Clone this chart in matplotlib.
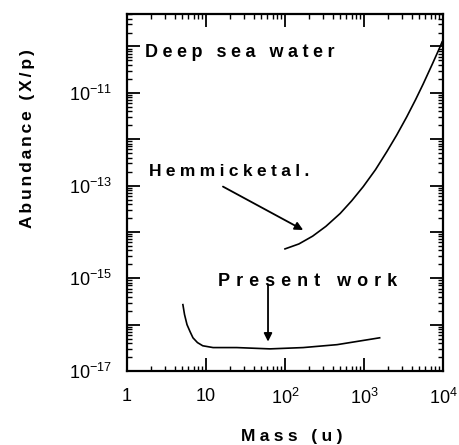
import numpy as np
import matplotlib
matplotlib.use('Agg')
import matplotlib.pyplot as plt
from matplotlib.ticker import LogLocator, FixedLocator, NullFormatter

plt.rcParams['font.family'] = ['Liberation Sans', 'DejaVu Sans']
plt.rcParams['mathtext.default'] = 'regular'

# Hemmick et al. limit curve
hem_mass = [100, 150, 224, 330, 500, 700, 980, 1400, 1950, 2600, 3470, 4500, 5620, 7400, 9120, 9770]
hem_abund = [4.3e-15, 5.5e-15, 8.1e-15, 1.32e-14, 2.5e-14, 4.7e-14, 9.5e-14, 2.2e-13,
             5.4e-13, 1.23e-12, 3.0e-12, 7.1e-12, 1.55e-11, 4.3e-11, 9.5e-11, 1.26e-10]

# present work limit curve
pw_mass = [5.1, 5.35, 5.75, 6.3, 6.84, 7.8, 9.1, 12.3, 24.5, 64.6, 170, 457, 1580]
pw_abund = [2.7e-16, 1.65e-16, 1.0e-16, 7.0e-17, 5.2e-17, 4.1e-17, 3.5e-17, 3.2e-17,
            3.2e-17, 3.0e-17, 3.2e-17, 3.7e-17, 5.2e-17]

x_ticks = [1, 10, 100, 1000, 10000]
x_labels = ['1', '10', '$10^2$', '$10^3$', '$10^4$']
y_decades = list(range(-17, -9))
y_labelled = {-17: '$10^{-17}$', -15: '$10^{-15}$', -13: '$10^{-13}$', -11: '$10^{-11}$'}


def spaced(s, gap, word_gap=None):
    # old typewriter style letter spacing
    if word_gap is None:
        word_gap = gap + ' ' + gap
    return word_gap.join(gap.join(w) for w in s.split(' '))


fig = plt.figure(figsize=(4.59, 4.45), dpi=100)
ax = fig.add_axes([0.2767, 0.1663, 0.6883, 0.8022])

ax.plot(hem_mass, hem_abund, color='black', lw=1.2)
ax.plot(pw_mass, pw_abund, color='black', lw=1.2)

ax.set_xscale('log')
ax.set_yscale('log')
ax.set_xlim(1, 1e4)
ax.set_ylim(1e-17, 10**-9.3)

ax.set_xticks(x_ticks)
ax.set_xticklabels(x_labels)
ax.yaxis.set_major_locator(FixedLocator([10.0**e for e in y_decades]))
ax.yaxis.set_minor_locator(LogLocator(base=10, subs=np.arange(2, 10), numticks=20))
ax.yaxis.set_minor_formatter(NullFormatter())
ax.set_yticklabels([y_labelled.get(e, '') for e in y_decades])

ax.tick_params(which='both', direction='in', top=True, right=True, labelsize=13)
ax.tick_params(which='major', length=9.5, width=1.3)
ax.tick_params(which='minor', length=3.5, width=1.0)
ax.tick_params(axis='x', pad=12)
ax.tick_params(axis='y', pad=11)
for s in ax.spines.values():
    s.set_linewidth(1.6)

ax.text(1.69, 7.4e-11, spaced('Deep sea water', '\u2005'), fontsize=13,
        fontweight='bold', va='center')
ax.text(1.9, 2.0e-13, spaced('Hemmick et al.', '\u2005', '\u2005'), fontsize=12.5,
        fontweight='bold', va='center')
ax.text(14.2, 8.5e-16, spaced('Present work', '\u2004', '\u2004 \u2004'), fontsize=13,
        fontweight='bold', va='center')

ax.annotate('', xy=(170, 1.1e-14), xytext=(16.4, 9.5e-14),
            arrowprops=dict(arrowstyle='-|>', color='black', lw=1.3, mutation_scale=12,
                            shrinkA=0, shrinkB=0))
ax.annotate('', xy=(61, 4.3e-17), xytext=(61, 7.4e-16),
            arrowprops=dict(arrowstyle='-|>', color='black', lw=1.3, mutation_scale=12,
                            shrinkA=0, shrinkB=0))

fig.text(0.636, 0.009, spaced('Mass (u)', '\u2005'), fontsize=12.5, fontweight='bold',
         ha='center', va='baseline')
fig.text(0.061, 0.689, spaced('Abundance (X/p)', '\u2006'), fontsize=12.5, fontweight='bold',
         rotation=90, ha='center', va='center')

fig.savefig('out.png', dpi=100)
